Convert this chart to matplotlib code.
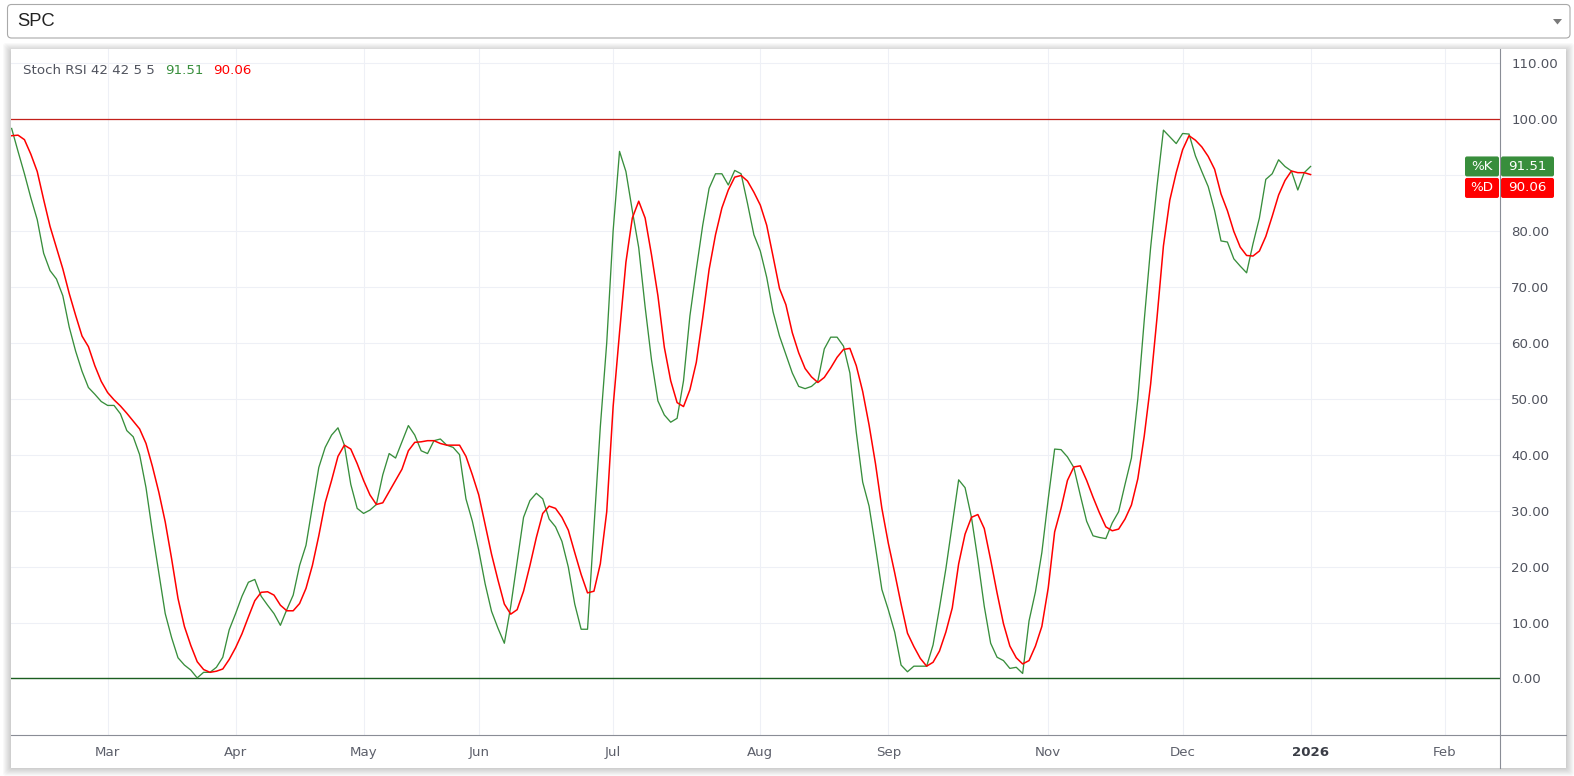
import matplotlib
matplotlib.use("Agg")
import matplotlib.pyplot as plt
from matplotlib.patches import FancyBboxPatch, Polygon

W, H = 1574, 776

# %K and %D of the Stoch RSI, one value per bar
k_line = [
    98.3, 94.2, 90.2, 85.9, 82.0, 76.0, 72.9, 71.4, 68.4, 62.8,
    58.5, 54.9, 52.0, 50.8, 49.5, 48.8, 48.8, 47.3, 44.3, 43.2,
    40.0, 34.1, 26.2, 18.9, 11.6, 7.3, 3.7, 2.4, 1.5, 0.1,
    1.1, 1.1, 2.0, 3.8, 8.7, 11.6, 14.7, 17.2, 17.7, 14.7,
    13.1, 11.6, 9.5, 12.3, 14.9, 20.2, 23.8, 30.8, 37.7, 41.3,
    43.5, 44.8, 41.7, 34.7, 30.4, 29.5, 30.1, 31.1, 36.4, 40.2,
    39.4, 42.3, 45.2, 43.5, 40.7, 40.2, 42.5, 42.8, 41.7, 41.3,
    40.0, 32.1, 28.1, 22.9, 16.9, 12.0, 9.0, 6.3, 12.9, 20.9,
    28.8, 31.8, 33.1, 32.1, 28.5, 27.1, 24.5, 19.9, 13.3, 8.8,
    8.8, 27.0, 45.0, 60.0, 80.0, 94.2, 90.6, 83.6, 77.0, 66.4,
    56.9, 49.6, 47.1, 45.8, 46.5, 53.2, 64.8, 73.1, 81.0, 87.6,
    90.2, 90.2, 88.2, 90.8, 90.2, 84.9, 79.3, 76.4, 71.7, 65.5,
    61.2, 57.9, 54.6, 52.2, 51.8, 52.2, 53.2, 58.9, 61.0, 61.0,
    59.4, 54.6, 44.0, 35.1, 30.8, 23.5, 15.9, 12.3, 8.3, 2.4,
    1.2, 2.2, 2.2, 2.2, 6.0, 12.6, 19.6, 27.5, 35.5, 34.1,
    28.8, 21.2, 12.9, 6.3, 3.8, 3.2, 1.8, 2.0, 0.9, 10.3,
    15.5, 22.5, 32.1, 41.0, 40.9, 39.6, 37.7, 32.8, 28.1, 25.5,
    25.2, 25.0, 27.8, 29.8, 34.7, 39.4, 50.0, 64.0, 77.0, 88.0,
    98.0, 96.8, 95.6, 97.4, 97.3, 93.4, 90.6, 87.9, 83.6, 78.2,
    78.0, 75.0, 73.7, 72.5, 77.7, 82.3, 89.2, 90.2, 92.7, 91.5,
    90.7, 87.3, 90.4, 91.51,
]
d_line = [
    97.0, 97.1, 96.3, 93.7, 90.6, 85.6, 80.8, 77.0, 73.2, 68.8,
    64.9, 61.2, 59.3, 55.9, 53.1, 51.1, 49.8, 48.7, 47.4, 46.0,
    44.6, 42.0, 37.9, 33.3, 28.0, 21.4, 14.3, 9.3, 5.9, 3.0,
    1.6, 1.1, 1.3, 1.7, 3.4, 5.5, 8.0, 11.0, 13.9, 15.4,
    15.5, 14.9, 13.1, 12.1, 12.1, 13.4, 16.1, 20.2, 25.5, 31.4,
    35.4, 39.7, 41.7, 41.0, 38.4, 35.4, 32.8, 31.1, 31.4, 33.4,
    35.4, 37.4, 40.7, 42.2, 42.3, 42.5, 42.5, 42.0, 41.7, 41.7,
    41.7, 39.7, 36.4, 32.8, 27.5, 22.2, 17.6, 13.3, 11.5, 12.3,
    15.6, 20.2, 25.2, 29.5, 30.8, 30.4, 28.8, 26.5, 22.5, 18.6,
    15.3, 15.6, 20.5, 29.8, 48.6, 61.8, 74.4, 82.3, 85.3, 82.3,
    75.7, 68.4, 59.2, 53.2, 49.3, 48.6, 51.6, 56.5, 64.5, 73.1,
    79.3, 84.1, 87.3, 89.6, 89.9, 88.9, 86.9, 84.6, 81.0, 75.4,
    69.7, 66.8, 61.8, 58.2, 55.4, 53.9, 52.9, 53.8, 55.5, 57.4,
    58.8, 59.0, 55.9, 51.3, 45.3, 38.4, 30.4, 24.2, 18.9, 13.3,
    8.1, 5.7, 3.6, 2.2, 2.9, 4.9, 8.3, 12.6, 20.5, 25.8,
    28.8, 29.3, 26.8, 21.2, 15.3, 9.8, 5.8, 3.7, 2.6, 3.2,
    5.8, 9.3, 16.2, 26.2, 30.4, 35.4, 37.8, 38.0, 35.4, 32.4,
    29.6, 27.1, 26.4, 26.7, 28.5, 31.0, 35.7, 43.3, 52.6, 64.5,
    77.3, 85.5, 90.4, 94.5, 97.0, 96.2, 95.0, 93.3, 91.0, 86.6,
    83.6, 79.9, 77.1, 75.6, 75.5, 76.4, 79.0, 82.6, 86.4, 89.0,
    90.7, 90.4, 90.4, 90.06,
]

# month labels sit on bar numbers
month_pos = [15, 35, 55, 73, 94, 117, 137, 162, 183, 203, 224]
month_lab = ['Mar', 'Apr', 'May', 'Jun', 'Jul', 'Aug', 'Sep', 'Nov', 'Dec', '2026', 'Feb']
y_ticks = list(range(0, 111, 10))
upper_band = 100
lower_band = 0
symbol = 'SPC'
legend_name = 'Stoch RSI 42 42 5 5'

GREEN = '#388e3c'
RED = '#ff0000'
TXT = '#50535e'
FS = 9.6

plt.rcParams['font.family'] = ['DejaVu Sans']


def px_rect(x0, y0, x1, y1):
    # pixel box (origin top-left) -> figure fraction rect
    return [x0 / W, 1 - y1 / H, (x1 - x0) / W, (y1 - y0) / H]


fig = plt.figure(figsize=(W / 100, H / 100), dpi=100)
fig.patch.set_facecolor('white')

# background layer: dropdown, panel shadow
bg = fig.add_axes([0, 0, 1, 1], zorder=0)
bg.set_xlim(0, W)
bg.set_ylim(H, 0)
bg.axis('off')

for d in range(1, 9):
    bg.add_patch(FancyBboxPatch((11 - d, 49 - d + 2), 1555 + 2 * d, 719 + 2 * d - 2,
                                boxstyle='round,pad=0,rounding_size=3',
                                facecolor='black', edgecolor='none', alpha=0.022))
bg.add_patch(FancyBboxPatch((11, 49), 1555, 719, boxstyle='square,pad=0',
                            facecolor='white', edgecolor='none'))

bg.add_patch(FancyBboxPatch((7.5, 4.5), 1562.5, 33.5,
                            boxstyle='round,pad=0,rounding_size=4',
                            facecolor='white', edgecolor='#a9a9a9', lw=0.8))
bg.add_patch(Polygon([(1553, 19), (1562, 19), (1557.5, 24.5)], closed=True,
                     facecolor='#7a7a7a', edgecolor='none'))
bg.text(17, 21.5, symbol, fontsize=13.2, family='Liberation Sans',
        color='#222222', va='center', ha='left')

# chart
ax = fig.add_axes(px_rect(11, 49, 1500, 735), zorder=1)
ax.patch.set_alpha(0)
x = list(range(len(k_line)))

ax.axhline(upper_band, color='#c3201b', lw=0.9, zorder=2)
ax.axhline(lower_band, color='#1b5e20', lw=1.0, zorder=2)
ax.plot(x, k_line, color=GREEN, lw=0.95, zorder=3)
ax.plot(x, d_line, color=RED, lw=1.1, zorder=4)

ax.set_xlim(-0.1, 232.6)
ax.set_ylim(-10.1, 112.5)
ax.set_xticks(month_pos)
ax.set_xticklabels(month_lab)
ax.set_yticks(y_ticks)
ax.yaxis.tick_right()
ax.tick_params(axis='y', length=0, pad=8, labelsize=FS, labelcolor=TXT)
ax.tick_params(axis='x', length=0, pad=8, labelsize=FS, labelcolor='#5d606b')
for lab in ax.get_xticklabels():
    if lab.get_text() == '2026':
        lab.set_fontweight('bold')
        lab.set_color('#3a3d46')
ax.grid(True, color='#eef0f6', lw=0.75, zorder=0)
for sp in ax.spines.values():
    sp.set_visible(False)

# foreground layer: axis lines, price tags, legend
fg = fig.add_axes([0, 0, 1, 1], zorder=2)
fg.set_xlim(0, W)
fg.set_ylim(H, 0)
fg.axis('off')

fg.plot([11, 1566], [735, 735], color='#8a8d96', lw=0.8)
fg.plot([1500, 1500], [49, 768], color='#8a8d96', lw=0.8)

k_last = k_line[-1]
d_last = d_line[-1]
yk = H - ax.transData.transform((0, k_last))[1]
yd = H - ax.transData.transform((0, d_last))[1]
yd = max(yd, yk + 21.5)

# price scale labels, hidden where the last-value tags sit
labels = []
for v in y_ticks:
    yv = H - ax.transData.transform((0, v))[1]
    hidden = abs(yv - yk) < 16 or abs(yv - yd) < 16
    labels.append('' if hidden else f'{v:.2f}')
ax.set_yticklabels(labels)

for yc, name, val, col in [(yk, '%K', k_last, GREEN), (yd, '%D', d_last, RED)]:
    fg.add_patch(FancyBboxPatch((1465, yc - 10), 34, 20,
                                boxstyle='round,pad=0,rounding_size=2',
                                facecolor=col, edgecolor='none'))
    fg.add_patch(FancyBboxPatch((1501, yc - 10), 53, 20,
                                boxstyle='round,pad=0,rounding_size=2',
                                facecolor=col, edgecolor='none'))
    fg.text(1482, yc, name, color='white', fontsize=FS, ha='center', va='center')
    fg.text(1527.5, yc, f'{val:.2f}', color='white', fontsize=FS, ha='center', va='center')

r = fig.canvas.get_renderer()
lx = 23
for s, c in [(legend_name, TXT), (f'{k_last:.2f}', GREEN), (f'{d_last:.2f}', RED)]:
    t = fg.text(lx, 70, s, color=c, fontsize=FS, ha='left', va='center')
    lx += t.get_window_extent(r).width + 10

fig.savefig('out.png', dpi=100)
